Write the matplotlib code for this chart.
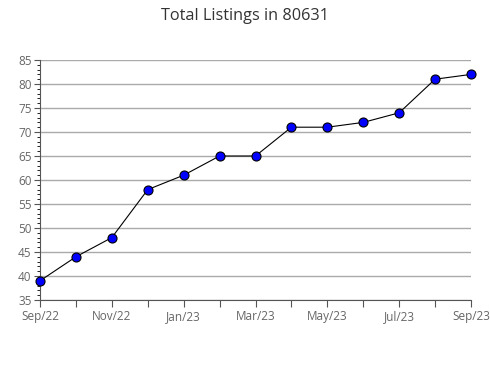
import matplotlib
matplotlib.use("Agg")
import matplotlib.pyplot as plt
from matplotlib.ticker import MultipleLocator

months = ["Sep/22", "Oct/22", "Nov/22", "Dec/22", "Jan/23", "Feb/23", "Mar/23",
          "Apr/23", "May/23", "Jun/23", "Jul/23", "Aug/23", "Sep/23"]
listings = [39, 44, 48, 58, 61, 65, 65, 71, 71, 72, 74, 81, 82]

plt.rcParams['font.family'] = ['Open Sans', 'DejaVu Sans']

fig = plt.figure(figsize=(4.9, 3.8), dpi=100)
ax = fig.add_axes([40/490, 80/380, 431/490, 240/380])

x = list(range(len(months)))
ax.plot(x, listings, color='black', linewidth=0.8, marker='o', markersize=6.5,
        markerfacecolor='#0000ff', markeredgecolor='black', markeredgewidth=0.8,
        zorder=3, clip_on=False)

ax.set_xlim(0, len(months) - 1)
ax.set_ylim(35, 85)
ax.set_xticks(x)
ax.set_xticklabels([m if i % 2 == 0 else "" for i, m in enumerate(months)])
ax.yaxis.set_major_locator(MultipleLocator(5))
ax.yaxis.set_minor_locator(MultipleLocator(1))
ax.grid(axis='y', color='#aaaaaa', linewidth=1)
ax.set_axisbelow(True)

for s in ['top', 'right']:
    ax.spines[s].set_visible(False)
for s in ['left', 'bottom']:
    ax.spines[s].set_color('#555555')
    ax.spines[s].set_linewidth(0.8)

ax.tick_params(axis='both', colors='#555555', labelcolor='#666666', labelsize=8.5, width=0.8)
ax.tick_params(axis='x', length=5, pad=2)
ax.tick_params(axis='y', which='major', length=4, pad=2)
ax.tick_params(axis='y', which='minor', length=2, width=0.6)

fig.suptitle("Total Listings in 80631", x=0.5, y=0.978, fontsize=11.7, color='#333333')

fig.savefig("out.png", dpi=100)
